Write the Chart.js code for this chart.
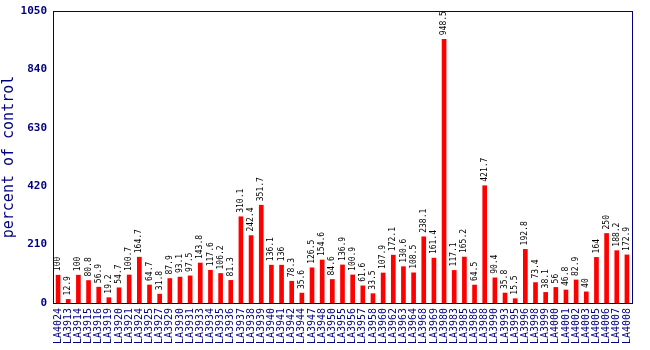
<!DOCTYPE html>
<html>
<head>
<meta charset="utf-8">
<script src="https://cdn.jsdelivr.net/npm/chart.js@4.4.1/dist/chart.umd.min.js"></script>
<style>
  html, body { margin: 0; padding: 0; background: #fff; }
  #wrap { width: 650px; height: 350px; }
</style>
</head>
<body>
<div id="wrap"><canvas id="chart"></canvas></div>
<script>
const labels = ['LA4024','LA3913','LA3914','LA3915','LA3916','LA3919','LA3920','LA3921','LA3924','LA3925',
  'LA3927','LA3929','LA3930','LA3931','LA3933','LA3934','LA3935','LA3936','LA3937','LA3938',
  'LA3939','LA3940','LA3941','LA3942','LA3944','LA3947','LA3948','LA3950','LA3955','LA3956',
  'LA3957','LA3958','LA3960','LA3962','LA3963','LA3964','LA3968','LA3969','LA3980','LA3983',
  'LA3985','LA3986','LA3988','LA3990','LA3993','LA3995','LA3996','LA3998','LA3999','LA4000',
  'LA4001','LA4002','LA4003','LA4005','LA4006','LA4007','LA4008'];
const values = [100,12.9,100,80.8,56.9,19.2,54.7,100.7,164.7,64.7,
  31.8,87.9,93.1,97.5,143.8,117.6,106.2,81.3,310.1,242.4,
  351.7,136.1,136,78.3,35.6,126.5,154.6,84.6,136.9,100.9,
  61.6,33.5,107.9,172.1,130.6,108.5,238.1,161.4,948.5,117.1,
  165.2,64.5,421.7,90.4,35.8,15.5,192.8,73.4,38.1,56,
  46.8,82.9,40,164,250,188.2,172.9];
const yTicks = [0, 210, 420, 630, 840, 1050];

const navy = '#000080';

// frame round the plot area + value labels over bars
const extras = {
  id: 'extras',
  afterDatasetsDraw(chart) {
    const ctx = chart.ctx;
    const a = chart.chartArea;
    ctx.save();
    ctx.strokeStyle = navy;
    ctx.lineWidth = 1;
    ctx.strokeRect(a.left + 0.5, a.top + 0.5, a.right - a.left, a.bottom - a.top);
    const meta = chart.getDatasetMeta(0);
    ctx.fillStyle = '#000';
    ctx.font = '8px "DejaVu Sans Mono", monospace';
    ctx.textAlign = 'left';
    ctx.textBaseline = 'middle';
    meta.data.forEach((bar, i) => {
      ctx.save();
      ctx.translate(bar.x, bar.y - 4);
      ctx.rotate(-Math.PI / 2);
      ctx.fillText(String(values[i]), 0, 0);
      ctx.restore();
    });
    ctx.restore();
  }
};

new Chart(document.getElementById('chart'), {
  type: 'bar',
  data: {
    labels: labels,
    datasets: [{
      data: values,
      backgroundColor: '#ff0000',
      barThickness: 4
    }]
  },
  options: {
    responsive: true,
    maintainAspectRatio: false,
    animation: false,
    layout: { padding: { top: 11, right: 18, left: 0, bottom: 0 } },
    plugins: { legend: { display: false }, tooltip: { enabled: false } },
    scales: {
      x: {
        grid: { display: false, drawTicks: false },
        border: { color: navy },
        ticks: {
          color: navy,
          font: { family: '"DejaVu Sans Mono", monospace', size: 10 },
          maxRotation: 90,
          minRotation: 90,
          autoSkip: false,
          padding: 5
        },
        afterFit(scale) { scale.height = 47; }
      },
      y: {
        min: 0,
        max: 1050,
        afterBuildTicks(scale) { scale.ticks = yTicks.map(v => ({ value: v })); },
        grid: { display: false, drawTicks: true, tickLength: 5, color: navy },
        border: { color: navy },
        ticks: {
          color: navy,
          font: { family: '"DejaVu Sans Mono", monospace', size: 11, weight: 'bold' },
          padding: 1,
          callback: v => String(v)
        },
        title: {
          display: true,
          text: 'percent of control',
          color: navy,
          font: { family: '"DejaVu Sans Mono", monospace', size: 15 },
          padding: 0
        },
        afterFit(scale) { scale.width = 53; }
      }
    }
  },
  plugins: [extras]
});
</script>
</body>
</html>
